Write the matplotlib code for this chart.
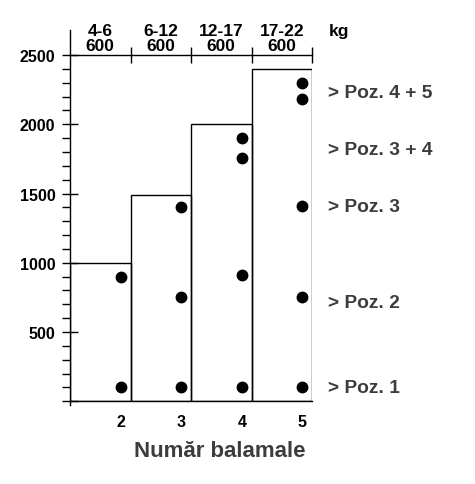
import matplotlib
matplotlib.use("Agg")
import matplotlib.pyplot as plt
import numpy as np
from matplotlib.ticker import FuncFormatter, MultipleLocator

# hinge count per door class
hinges = [2, 3, 4, 5]
weight_ranges = ["4-6", "6-12", "12-17", "17-22"]
widths = ["600", "600", "600", "600"]
max_load = [1000, 1490, 2000, 2400]

# hinge positions (mm) for each hinge count
hinge_pos = {
    2: [100, 900],
    3: [100, 750, 1400],
    4: [100, 910, 1760, 1900],
    5: [100, 750, 1410, 2180, 2300],
}

pos_labels = ["> Poz. 1", "> Poz. 2", "> Poz. 3", "> Poz. 3 + 4", "> Poz. 4 + 5"]
pos_label_y = [100, 712, 1403, 1820, 2229]

plt.rcParams["font.family"] = ["Liberation Sans", "DejaVu Sans"]
plt.rcParams["font.weight"] = "bold"

fig = plt.figure(figsize=(4.75, 4.85), dpi=100)
ax = fig.add_axes([70 / 475, 1 - 402.3 / 485, 242 / 475, 346.3 / 485])

x = np.array(hinges, dtype=float)
ax.bar(x - 0.5, max_load, width=1.0, fill=False, edgecolor="black", linewidth=1.0)

for n in hinges:
    ys = hinge_pos[n]
    ax.plot([n - 0.16] * len(ys), ys, "o", color="black", markersize=7.5, clip_on=False)

ax.set_xlim(1, 5)
ax.set_ylim(0, 2500)

ax.spines["right"].set_visible(False)
for s in ["left", "top", "bottom"]:
    ax.spines[s].set_linewidth(1.0)
ax.spines["left"].set_bounds(-30, 2680)

# y axis
ax.yaxis.set_major_locator(MultipleLocator(500))
ax.yaxis.set_minor_locator(MultipleLocator(100))
ax.yaxis.set_major_formatter(FuncFormatter(lambda v, p: "" if v == 0 else f"{int(v)}"))
ax.tick_params(axis="y", which="major", direction="inout", length=11, width=1.0,
               pad=5, labelsize=11.5)
ax.tick_params(axis="y", which="minor", direction="out", length=5.8, width=1.0)

# bottom axis labels
ax.set_xticks(x - 0.16)
ax.set_xticklabels([str(n) for n in hinges], fontsize=11.5, fontweight="bold")
ax.tick_params(axis="x", which="major", length=0, pad=9)

# top ticks at bin edges
sec = ax.secondary_xaxis("top")
sec.set_xticks(hinges)
sec.set_xticklabels([])
sec.tick_params(direction="inout", length=11, width=1.0)
sec.spines["top"].set_visible(False)

trans = ax.get_xaxis_transform()
for n, wr, w in zip(hinges, weight_ranges, widths):
    ax.text(n - 0.5, 1.005, f"{wr}\n{w}", transform=trans, ha="center", va="bottom",
            fontsize=12.5, fontweight="bold", linespacing=1.05)
ax.text(5.27, 1.005, "kg\n ", transform=trans, ha="left", va="bottom",
        fontsize=12.5, fontweight="bold", linespacing=1.05)

for lab, y in zip(pos_labels, pos_label_y):
    ax.text(5.27, y, lab, ha="left", va="center", fontsize=13.8, fontweight="bold",
            color="#3c3c3c", clip_on=False)

fig.text(220 / 475, 1 - 452 / 485, "Număr balamale", ha="center", va="center",
         fontsize=16, fontweight="bold", color="#3c3c3c")

fig.savefig("out.png", dpi=100)
